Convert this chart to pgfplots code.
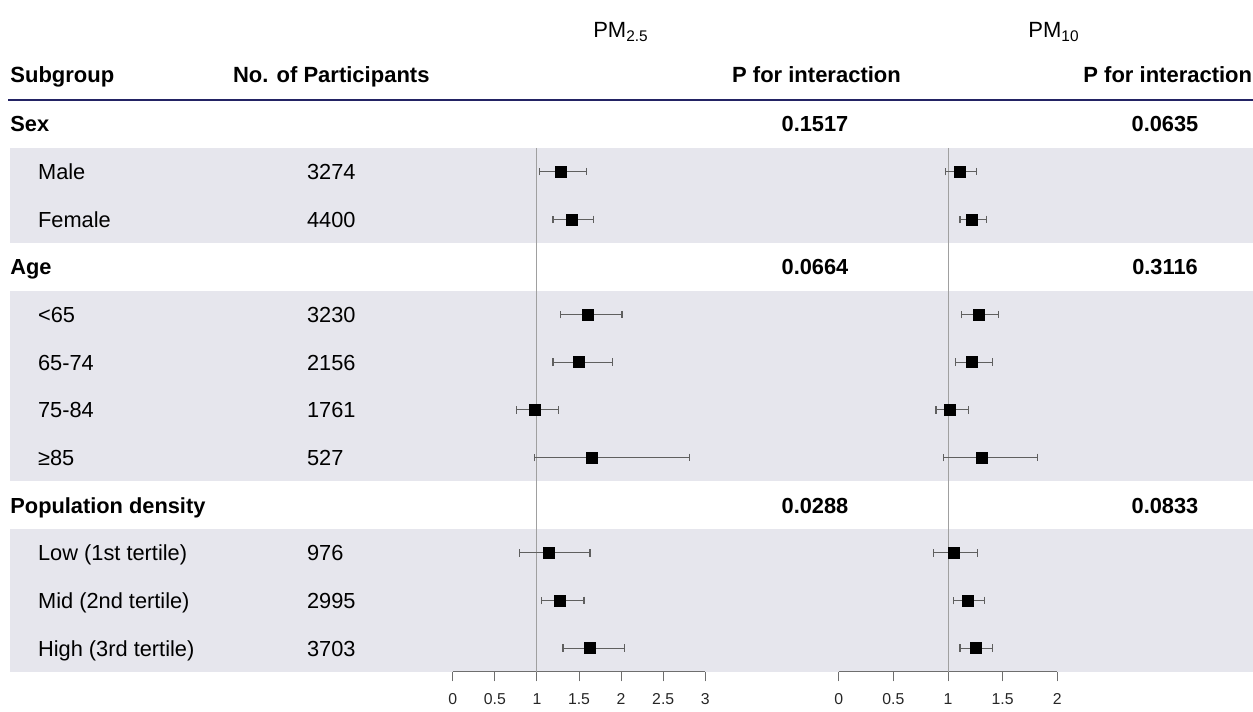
\documentclass[border=0pt]{standalone}
\usepackage{pgfplots}
\pgfplotsset{compat=1.18}
\usepackage{pgfplotstable}
\usepackage{fontspec}
\setmainfont{Liberation Sans}
\definecolor{band}{RGB}{230,230,237}
\definecolor{navy}{RGB}{35,35,100}
\definecolor{refline}{RGB}{160,160,160}
\definecolor{whisk}{RGB}{95,95,95}
\definecolor{axisgray}{RGB}{110,110,110}

% row index, estimate, lower CI, upper CI
\pgfplotstableread{
row est lo hi
1  1.28 1.03 1.59
2  1.41 1.19 1.67
4  1.60 1.28 2.01
5  1.50 1.19 1.90
6  0.97 0.76 1.26
7  1.65 0.97 2.81
9  1.14 0.79 1.63
10 1.27 1.05 1.56
11 1.63 1.31 2.04
}\pmtwofive
\pgfplotstableread{
row est lo hi
1  1.11 0.98 1.26
2  1.22 1.11 1.35
4  1.28 1.12 1.46
5  1.22 1.07 1.41
6  1.02 0.89 1.19
7  1.31 0.96 1.82
9  1.05 0.87 1.27
10 1.18 1.05 1.33
11 1.25 1.11 1.41
}\pmten

\pgfplotsset{
  forest/.style={
    scale only axis, clip=false, anchor=north west,
    y dir=reverse, ymin=-0.5, ymax=11.5, height=285.85bp,
    axis x line=bottom, axis y line=none,
    x axis line style={-, draw=axisgray, line width=0.5bp},
    tick align=outside, major tick length=4.75bp,
    xtick style={draw=axisgray, line width=0.5bp},
    ticklabel style={font=\fontsize{7.9bp}{9bp}\selectfont, text=black!85, yshift=-2.5bp},
    /pgf/number format/assume math mode=true,
  },
  ebars/.style={
    draw=none, mark=none, forget plot,
    error bars/.cd, x dir=both, x explicit, error mark=|,
    error bar style={draw=whisk, line width=0.6bp},
    error mark options={draw=whisk, line width=0.6bp, mark size=1.9bp},
  },
  boxes/.style={only marks, mark=square*, mark size=2.75bp,
    mark options={fill=black, draw=black, line width=0.3bp}},
}

\newcommand\subrow[3]{%
  \node[anchor=base west] at (37.7,#1+8) {#2};
  \node[anchor=base west] at (306.7,#1+8) {#3};}
\newcommand\grouprow[4]{%
  \node[anchor=base west] at (10,#1+8) {\bfseries #2};
  \node[anchor=base] at (815,#1+8) {\bfseries #3};
  \node[anchor=base] at (1165,#1+8) {\bfseries #4};}

\begin{document}
\begin{tikzpicture}
\begin{scope}[x=0.5bp, y=-0.5bp, every node/.style={inner sep=0pt, font=\fontsize{10.9bp}{13bp}\selectfont}]
  \path[use as bounding box] (0,0) rectangle (1253,708);
  % shaded bands
  \fill[band] (10,147.8) rectangle (1253,243.1);
  \fill[band] (10,290.7) rectangle (1253,481.3);
  \fill[band] (10,528.9) rectangle (1253,671.9);
  % header rule
  \draw[navy, line width=0.8bp] (8,100) -- (1253,100);
  % titles
  \node[anchor=base, font=\fontsize{11bp}{13bp}\selectfont] at (621,38) {PM\textsubscript{2.5}};
  \node[anchor=base, font=\fontsize{11bp}{13bp}\selectfont] at (1054,38) {PM\textsubscript{10}};
  % header
  \node[anchor=base west, font=\fontsize{11bp}{13bp}\selectfont\bfseries] at (10,83) {Subgroup};
  \node[anchor=base west, font=\fontsize{11bp}{13bp}\selectfont\bfseries] at (232.7,83) {No. of Participants};
  \node[anchor=base, font=\fontsize{11bp}{13bp}\selectfont\bfseries] at (816.5,83) {P for interaction};
  \node[anchor=base east, font=\fontsize{11bp}{13bp}\selectfont\bfseries] at (1252.5,83) {P for interaction};
  % rows
  \grouprow{124.0}{Sex}{0.1517}{0.0635}
  \subrow{171.6}{Male}{3274}
  \subrow{219.3}{Female}{4400}
  \grouprow{266.9}{Age}{0.0664}{0.3116}
  \subrow{314.6}{<65}{3230}
  \subrow{362.2}{65-74}{2156}
  \subrow{409.8}{75-84}{1761}
  \subrow{457.5}{≥85}{527}
  \grouprow{505.1}{Population density}{0.0288}{0.0833}
  \subrow{552.8}{Low (1st tertile)}{976}
  \subrow{600.4}{Mid (2nd tertile)}{2995}
  \subrow{648.0}{High (3rd tertile)}{3703}
\end{scope}

% PM2.5 panel
\begin{axis}[forest, at={(226.35bp,-50.1bp)}, width=126.3bp,
  xmin=0, xmax=3, xtick={0,0.5,1,1.5,2,2.5,3}]
  \addplot[refline, line width=0.5bp, forget plot] coordinates {(1,0.5) (1,11.5)};
  \addplot[ebars] table[x=est, y=row,
    x error plus expr=\thisrow{hi}-\thisrow{est},
    x error minus expr=\thisrow{est}-\thisrow{lo}] {\pmtwofive};
  \addplot[boxes] table[x=est, y=row] {\pmtwofive};
\end{axis}

% PM10 panel
\begin{axis}[forest, at={(419.35bp,-50.1bp)}, width=109.3bp,
  xmin=0, xmax=2, xtick={0,0.5,1,1.5,2}]
  \addplot[refline, line width=0.5bp, forget plot] coordinates {(1,0.5) (1,11.5)};
  \addplot[ebars] table[x=est, y=row,
    x error plus expr=\thisrow{hi}-\thisrow{est},
    x error minus expr=\thisrow{est}-\thisrow{lo}] {\pmten};
  \addplot[boxes] table[x=est, y=row] {\pmten};
\end{axis}
\end{tikzpicture}
\end{document}
